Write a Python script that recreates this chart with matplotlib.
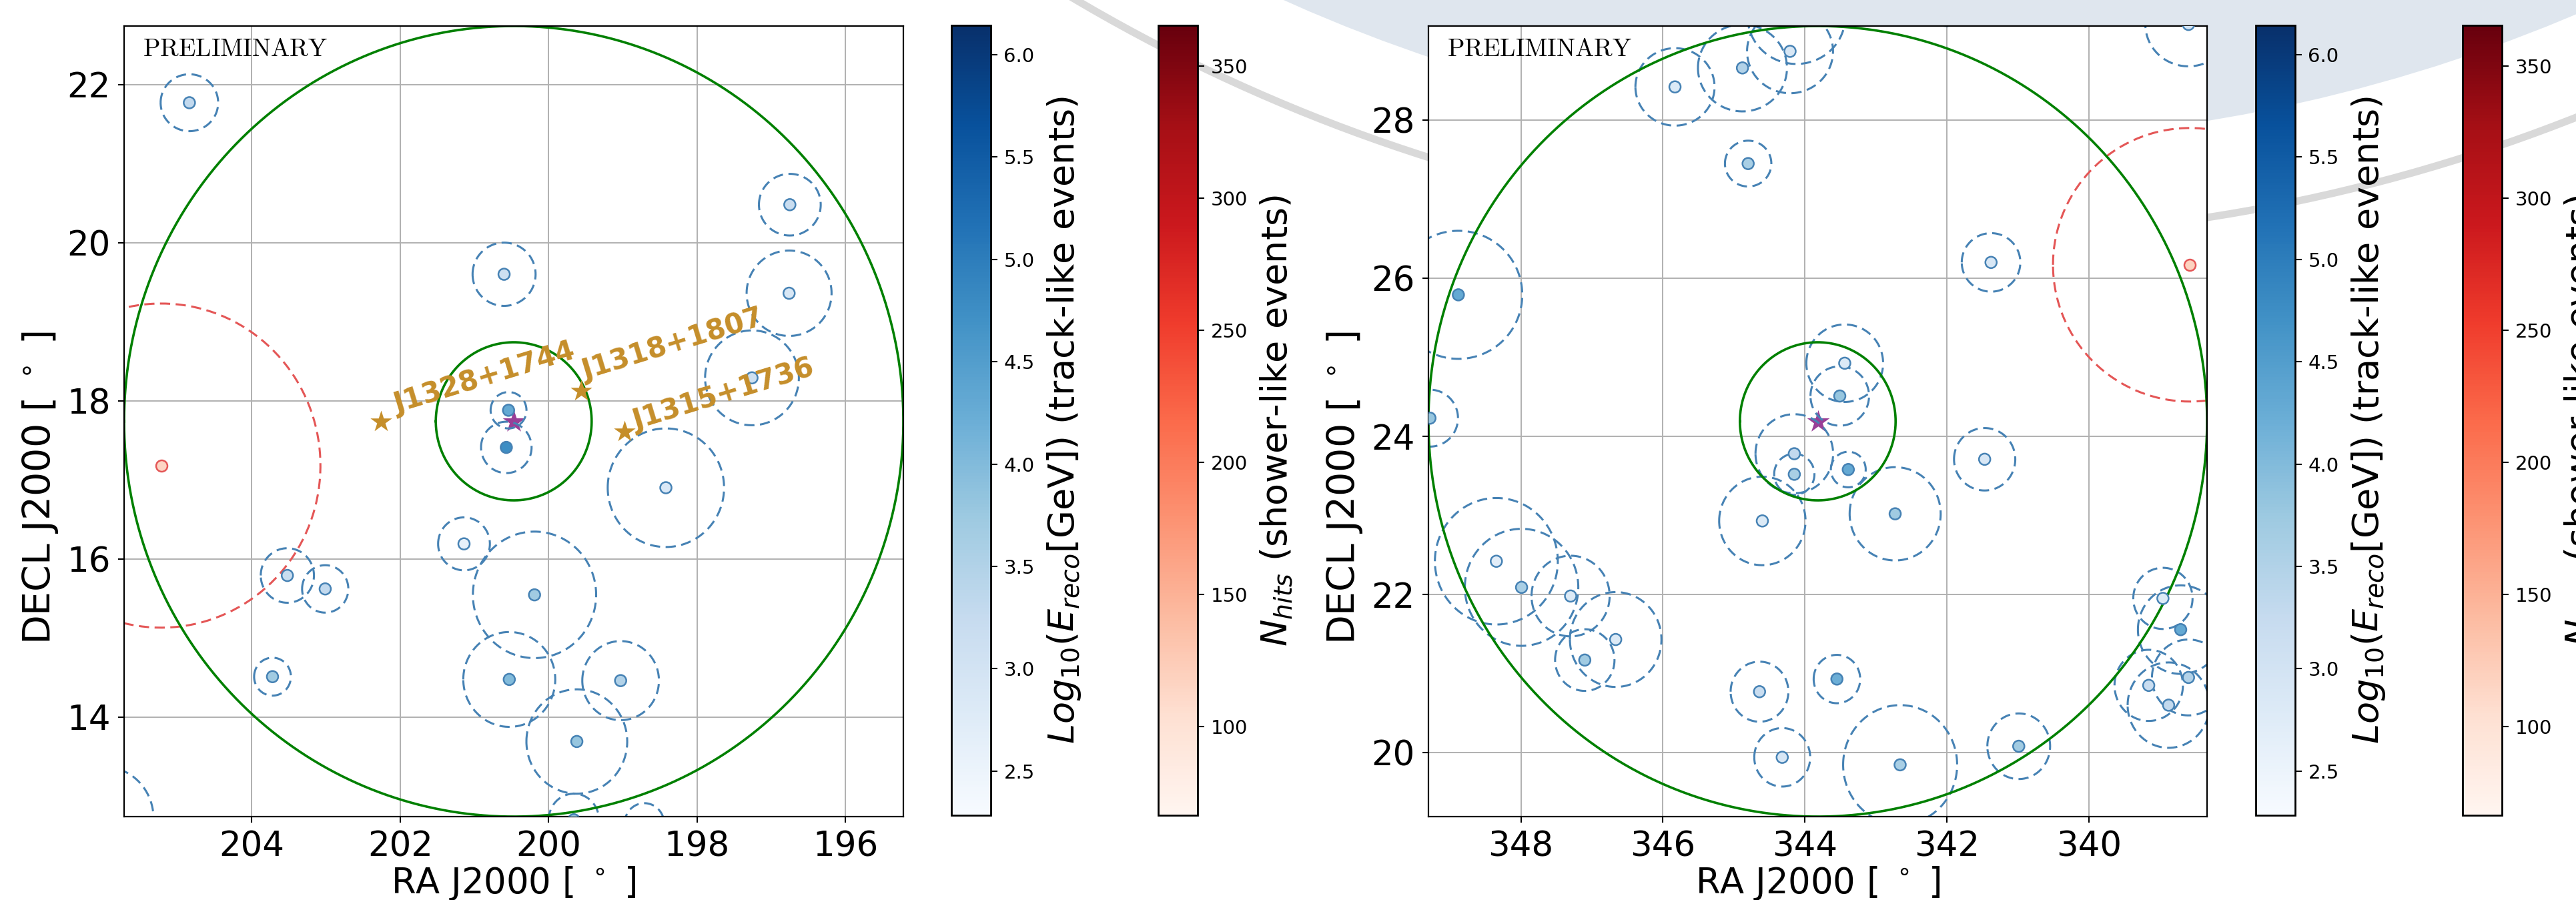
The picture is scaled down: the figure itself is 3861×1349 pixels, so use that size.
import numpy as np
import matplotlib
matplotlib.use('Agg')
import matplotlib.pyplot as plt
from matplotlib.patches import Circle
from matplotlib.colors import Normalize
from matplotlib.ticker import MultipleLocator
import matplotlib.cm as cm

# ---- data -------------------------------------------------------------
# track-like events: RA, Dec, angular error (deg), log10(E_reco/GeV)
left_ra = [204.84, 196.75, 200.60, 196.76, 197.26, 200.54, 200.57, 201.14, 198.42, 200.19,
           203.52, 203.01, 203.72, 200.53, 199.03, 199.62, 199.66, 198.71, 205.99]
left_dec = [21.77, 20.48, 19.60, 19.36, 18.29, 17.88, 17.41, 16.19, 16.90, 15.545,
            15.79, 15.62, 14.51, 14.475, 14.46, 13.69, 12.70, 12.65, 12.72]
left_err = [0.36, 0.39, 0.40, 0.54, 0.60, 0.23, 0.325, 0.335, 0.75, 0.80,
            0.345, 0.30, 0.24, 0.60, 0.50, 0.66, 0.33, 0.26, 0.65]
left_loge = [3.3, 3.2, 3.1, 2.9, 3.1, 4.3, 4.75, 2.6, 2.85, 3.7,
             3.2, 3.3, 3.7, 4.0, 3.5, 3.8, 3.8, 3.2, 3.0]

right_ra = [345.83, 344.88, 344.21, 344.12, 341.98, 338.60, 344.80, 341.38, 348.88, 349.28,
            343.44, 343.51, 344.15, 344.15, 343.39, 344.60, 342.73, 341.47, 348.345, 347.99,
            347.30, 346.665, 347.10, 344.64, 343.55, 344.32, 342.66, 340.99, 338.96, 338.71,
            338.60, 339.16, 338.88]
right_dec = [28.42, 28.66, 28.87, 29.31, 29.62, 29.21, 27.45, 26.20, 25.79, 24.23,
             24.925, 24.51, 23.78, 23.52, 23.58, 22.93, 23.02, 23.71, 22.42, 22.09,
             21.98, 21.43, 21.17, 20.77, 20.93, 19.94, 19.845, 20.08, 21.95, 21.555,
             20.95, 20.85, 20.60]
right_err = [0.49, 0.55, 0.53, 0.60, 0.43, 0.53, 0.29, 0.37, 0.81, 0.36,
             0.49, 0.375, 0.50, 0.26, 0.225, 0.56, 0.59, 0.395, 0.80, 0.74,
             0.51, 0.60, 0.39, 0.38, 0.306, 0.37, 0.755, 0.415, 0.387, 0.56,
             0.48, 0.45, 0.54]
right_loge = [2.8, 3.5, 2.9, 3.0, 3.5, 3.0, 3.6, 2.9, 4.3, 3.8,
              2.8, 3.8, 3.3, 3.6, 4.3, 2.8, 3.7, 2.9, 2.7, 3.6,
              2.8, 2.8, 3.7, 3.2, 4.2, 2.9, 3.6, 3.7, 2.8, 4.3,
              3.5, 3.2, 3.3]

# shower-like events: RA, Dec, angular error, Nhits
left_sh_ra, left_sh_dec, left_sh_err, left_sh_nhits = [205.22], [17.18], [2.05], [115]
right_sh_ra, right_sh_dec, right_sh_err, right_sh_nhits = [338.58], [26.17], [1.73], [118]

# target positions (centre of each panel) and search radii
target_ra = [200.47, 343.82]
target_dec = [17.74, 24.19]
field_radii = [1.0, 5.0]

# sources shown on the left panel
src_names = ['J1328+1744', 'J1318+1807', 'J1315+1736']
src_ra = [202.26, 199.565, 198.98]
src_dec = [17.74, 18.12, 17.61]

energy_range = (2.284, 6.143)
nhits_range = (66.3, 365.4)

# ---- style ------------------------------------------------------------
W, H, DPI = 3861, 1349, 100
blue_line = '#4682b4'
red_line = '#e45656'
gold = '#c58e2a'
dash = (0, (5.0, 2.7))
label_offsets = [(17, 9), (4, 12), (12, 1.5)]


def ring(ra0, dec0, r, n=300):
    t = np.linspace(0, 2 * np.pi, n)
    return ra0 + r * np.cos(t) / np.cos(np.radians(dec0)), dec0 + r * np.sin(t)


def px(x0, y0, w, h):
    # rectangle given in image pixels (y from top) -> figure fraction
    return [x0 / W, 1 - (y0 + h) / H, w / W, h / H]


fig = plt.figure(figsize=(W / DPI, H / DPI), dpi=DPI, facecolor='white')

# slide-style background behind the figure
fig.add_artist(Circle((29.17, 35.59), 24.23, transform=fig.dpi_scale_trans,
                      facecolor='#dfe6ee', edgecolor='none', zorder=-2))
fig.add_artist(Circle((29.17, 35.59), 25.66, transform=fig.dpi_scale_trans,
                      facecolor='none', edgecolor='#d9d9d9', lw=8, zorder=-1))

enorm = Normalize(*energy_range)
hnorm = Normalize(*nhits_range)

panels = [
    (px(186, 39, 1168, 1185), px(1426, 38, 59, 1184), px(1736, 38, 59, 1184),
     left_ra, left_dec, left_err, left_loge,
     left_sh_ra, left_sh_dec, left_sh_err, left_sh_nhits),
    (px(2141, 39, 1167, 1185), px(3381, 38, 59, 1184), px(3691, 38, 59, 1184),
     right_ra, right_dec, right_err, right_loge,
     right_sh_ra, right_sh_dec, right_sh_err, right_sh_nhits),
]

for i, (rect, cb1_rect, cb2_rect, ra, dec, err, loge, sra, sdec, serr, snh) in enumerate(panels):
    ax = fig.add_axes(rect)
    ra0, dec0 = target_ra[i], target_dec[i]
    half = 5.0 / np.cos(np.radians(dec0))
    ax.set_xlim(ra0 + half, ra0 - half)
    ax.set_ylim(dec0 - 5.0, dec0 + 5.0)

    for r0, d0, e0 in zip(ra, dec, err):
        x, y = ring(r0, d0, e0)
        ax.plot(x, y, color=blue_line, lw=2.2, ls=dash, zorder=2)
    for r0, d0, e0 in zip(sra, sdec, serr):
        x, y = ring(r0, d0, e0)
        ax.plot(x, y, color=red_line, lw=2.2, ls=dash, zorder=2)

    for rad in field_radii:
        x, y = ring(ra0, dec0, rad)
        ax.plot(x, y, color='green', lw=2.6, zorder=2.5)

    ax.scatter(ra0, dec0, marker='*', s=650, color='#8e2a8c', alpha=0.9, lw=0, zorder=1.9)

    sc = ax.scatter(ra, dec, c=loge, cmap='Blues', norm=enorm, s=150,
                    edgecolors=blue_line, linewidths=1.8, zorder=3)
    sh = ax.scatter(sra, sdec, c=snh, cmap='Reds', norm=hnorm, s=150,
                    edgecolors=red_line, linewidths=1.8, zorder=3)

    if i == 0:
        for name, r0, d0, off in zip(src_names, src_ra, src_dec, label_offsets):
            ax.scatter(r0, d0, marker='*', s=600, color=gold, lw=0, zorder=4)
            ax.annotate(name, (r0, d0), xytext=off, textcoords='offset points',
                        rotation=17, rotation_mode='anchor', ha='left', va='baseline',
                        color=gold, fontsize=30, fontweight='bold', zorder=4)

    ax.xaxis.set_major_locator(MultipleLocator(2))
    ax.yaxis.set_major_locator(MultipleLocator(2))
    ax.grid(True, color='#b0b0b0', lw=1.4)
    ax.set_axisbelow(True)
    ax.tick_params(labelsize=37, length=6.5, width=1.5, pad=8)
    for s in ax.spines.values():
        s.set_linewidth(1.6)
    ax.set_xlabel(r'RA J2000 [ $^\circ$ ]', fontsize=38, labelpad=1)
    ax.set_ylabel(r'DECL J2000 [ $^\circ$ ]', fontsize=41)
    ax.yaxis.set_label_coords(-0.082, 0.416)
    ax.text(0.024, 0.986, r'$\mathrm{PRELIMINARY}$', transform=ax.transAxes,
            ha='left', va='top', fontsize=27, math_fontfamily='cm', zorder=5)

    cax1 = fig.add_axes(cb1_rect)
    cb1 = fig.colorbar(cm.ScalarMappable(norm=enorm, cmap='Blues'), cax=cax1)
    cb1.set_ticks(np.arange(2.5, 6.01, 0.5))
    cb1.set_label(r'$Log_{10}(E_{reco}[\mathrm{GeV}])$ (track-like events)', fontsize=39, labelpad=12)
    cax2 = fig.add_axes(cb2_rect)
    cb2 = fig.colorbar(cm.ScalarMappable(norm=hnorm, cmap='Reds'), cax=cax2)
    cb2.set_ticks(np.arange(100, 351, 50))
    cb2.set_label(r'$N_{hits}$ (shower-like events)', fontsize=39, labelpad=12)
    for cb in (cb1, cb2):
        cb.ax.tick_params(labelsize=21, length=7, width=1.5, pad=7)
        cb.outline.set_linewidth(2)

fig.savefig('out.png', dpi=DPI)
